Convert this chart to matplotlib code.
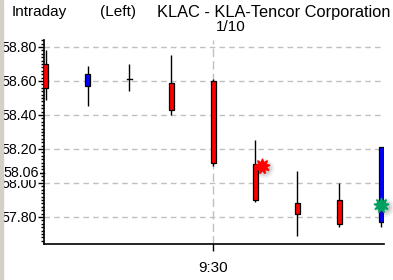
import numpy as np
import matplotlib
matplotlib.use("Agg")
import matplotlib.pyplot as plt
from matplotlib.ticker import FixedLocator, MultipleLocator

plt.rcParams['font.family'] = ['Liberation Sans', 'DejaVu Sans']

# candle data (one bar per interval)
opens  = [58.70, 58.57, 58.61, 58.59, 58.60, 58.11, 57.88, 57.90, 57.77]
highs  = [58.78, 58.69, 58.70, 58.75, 58.61, 58.25, 58.07, 58.00, 58.21]
lows   = [58.49, 58.45, 58.54, 58.40, 58.10, 57.89, 57.69, 57.74, 57.74]
closes = [58.56, 58.64, 58.61, 58.43, 58.12, 57.90, 57.82, 57.76, 58.21]
colors = ['red', 'blue', 'black', 'red', 'red', 'red', 'red', 'red', 'blue']

y_ticks = [57.80, 58.00, 58.20, 58.40, 58.60, 58.80]
ref_price = 58.06
x_tick_pos = 4
x_tick_label = "9:30"
marker_pts = [(5.15, 58.10, 'red'), (8.0, 57.87, '#00a060')]

FS = 11
TFS = 10.3

fig = plt.figure(figsize=(3.93, 2.80), dpi=100)
fig.patch.set_facecolor('white')
ax = fig.add_axes([43.5/393, 36/280, 340/393, 204/280])

x = np.arange(len(opens))
w = 0.1
for i in x:
    o, h, l, c = opens[i], highs[i], lows[i], closes[i]
    ax.plot([i, i], [l, h], color='black', lw=1.0, zorder=2, solid_capstyle='butt')
    if colors[i] == 'black':
        ax.plot([i - w/2, i + w/2], [o, o], color='black', lw=1.0, zorder=3)
    else:
        lo, hi = min(o, c), max(o, c)
        ax.bar(i, hi - lo, bottom=lo, width=w, color=colors[i],
               edgecolor='black', linewidth=0.9, zorder=3)

# last price markers with soft shadow
for mx, my, mc in marker_pts:
    for k, a in enumerate([0.10, 0.08, 0.06]):
        ax.plot(mx + 0.06, my - 0.012, 'o', ms=8 + 3*k, color='black', alpha=a,
                mec='none', zorder=4, clip_on=False)
    ax.plot(mx, my, marker=(9, 1, 0), ms=11, color=mc, mec=mc, zorder=5, clip_on=False)

ax.set_xlim(-0.048, 8.05)
ax.set_ylim(57.641, 58.841)

ax.yaxis.set_major_locator(FixedLocator(y_ticks))
ax.yaxis.set_minor_locator(MultipleLocator(0.02))
ax.set_yticklabels([f"{v:.2f}" for v in y_ticks])
ax.set_xticks([x_tick_pos])
ax.set_xticklabels([x_tick_label])

ax.tick_params(axis='y', which='major', length=4, width=1, pad=0.5, labelsize=TFS)
ax.tick_params(axis='y', which='minor', length=2.5, width=1)
ax.tick_params(axis='x', length=5, width=1, pad=7, labelsize=FS)

ax.grid(axis='y', which='major', color='#c0c0c0', linestyle=(0, (4, 3)), lw=1)
ax.grid(axis='x', which='major', color='#c0c0c0', linestyle=(0, (6, 3)), lw=1)
ax.set_axisbelow(True)

for s in ['top', 'right']:
    ax.spines[s].set_visible(False)
for s in ['left', 'bottom']:
    ax.spines[s].set_linewidth(1.2)

# reference price label sits over the 58.00 label
ax.text(-0.013, ref_price, f"{ref_price:.2f}", transform=ax.get_yaxis_transform(),
        ha='right', va='center', fontsize=TFS,
        bbox=dict(facecolor='white', edgecolor='none', pad=0.3))
ax.plot([-0.012, 0], [ref_price, ref_price], transform=ax.get_yaxis_transform(),
        color='black', lw=1, clip_on=False)

fig.text(12/393, 1 - 12/280, "Intraday", ha='left', va='center', fontsize=FS)
fig.text(100/393, 1 - 12/280, "(Left)", ha='left', va='center', fontsize=FS)
fig.text(157/393, 1 - 12/280, "KLAC - KLA-Tencor Corporation", ha='left', va='center',
         fontsize=11.8)
fig.text(231/393, 1 - 27/280, "1/10", ha='center', va='center', fontsize=FS)

# thin grey strip at the left edge
fig.patches.append(plt.Rectangle((0, 0), 2.5/393, 1, transform=fig.transFigure,
                                 color='#d4d0c8', zorder=0))

plt.savefig("out.png", dpi=100)
